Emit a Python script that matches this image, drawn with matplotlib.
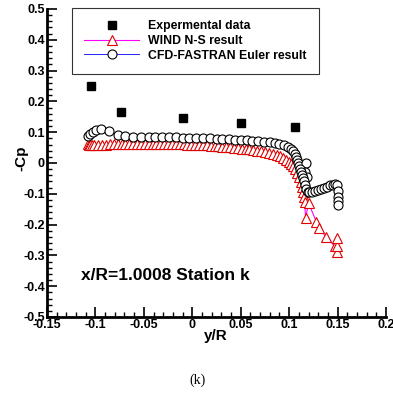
import matplotlib
matplotlib.use("Agg")
import matplotlib.pyplot as plt
from matplotlib.ticker import MultipleLocator

# Experimental data
exp_x = [-0.105, -0.074, -0.010, 0.050, 0.106]
exp_y = [0.250, 0.166, 0.147, 0.130, 0.117]

# WIND N-S result
wind_x = [-0.108, -0.107, -0.106, -0.104, -0.101, -0.097, -0.093, -0.089, -0.085, -0.081,
          -0.077, -0.073, -0.069, -0.065, -0.061, -0.057, -0.053, -0.049, -0.045, -0.041,
          -0.037, -0.033, -0.029, -0.025, -0.021, -0.017, -0.013, -0.009, -0.005, -0.001,
          0.003, 0.007, 0.011, 0.015, 0.019, 0.023, 0.027, 0.031, 0.035, 0.039,
          0.043, 0.047, 0.051, 0.055, 0.059, 0.063, 0.067, 0.071, 0.075, 0.079,
          0.083, 0.087, 0.091, 0.094, 0.097, 0.100, 0.102, 0.104, 0.106, 0.108,
          0.110, 0.112, 0.113, 0.114, 0.115, 0.116, 0.117, 0.120, 0.128, 0.131,
          0.138, 0.147, 0.149, 0.149, 0.149]
wind_y = [0.062, 0.060, 0.059, 0.058, 0.058, 0.059, 0.060, 0.060, 0.061, 0.061,
          0.062, 0.062, 0.062, 0.063, 0.063, 0.063, 0.063, 0.063, 0.063, 0.063,
          0.063, 0.063, 0.062, 0.062, 0.062, 0.062, 0.061, 0.061, 0.060, 0.060,
          0.059, 0.059, 0.058, 0.057, 0.056, 0.055, 0.054, 0.053, 0.052, 0.051,
          0.050, 0.049, 0.047, 0.046, 0.044, 0.042, 0.040, 0.038, 0.035, 0.032,
          0.030, 0.027, 0.022, 0.017, 0.011, 0.004, -0.002, -0.010, -0.020, -0.032,
          -0.046, -0.062, -0.078, -0.095, -0.110, -0.128, -0.180, -0.130, -0.190, -0.210,
          -0.240, -0.270, -0.290, -0.270, -0.245]

# CFD-FASTRAN Euler result
cfd_x = [-0.108, -0.106, -0.103, -0.099, -0.094, -0.086, -0.077, -0.069, -0.061, -0.053,
         -0.045, -0.038, -0.031, -0.024, -0.017, -0.010, -0.003, 0.004, 0.011, 0.018,
         0.025, 0.031, 0.038, 0.044, 0.050, 0.056, 0.062, 0.068, 0.074, 0.080,
         0.085, 0.090, 0.095, 0.099, 0.102, 0.104, 0.106, 0.107, 0.108, 0.109,
         0.110, 0.117, 0.116, 0.118, 0.111, 0.112, 0.113, 0.114, 0.115, 0.116,
         0.117, 0.119, 0.121, 0.124, 0.127, 0.130, 0.133, 0.136, 0.139, 0.142,
         0.145, 0.147, 0.149, 0.150, 0.150, 0.150, 0.150]
cfd_y = [0.088, 0.094, 0.102, 0.108, 0.112, 0.104, 0.092, 0.087, 0.086, 0.085,
         0.085, 0.084, 0.084, 0.083, 0.083, 0.082, 0.082, 0.081, 0.080, 0.080,
         0.079, 0.078, 0.077, 0.076, 0.075, 0.074, 0.073, 0.071, 0.069, 0.067,
         0.064, 0.061, 0.058, 0.053, 0.046, 0.038, 0.029, 0.020, 0.010, 0.000,
         -0.010, 0.000, -0.030, -0.045, -0.020, -0.030, -0.040, -0.050, -0.060, -0.070,
         -0.085, -0.093, -0.095, -0.094, -0.092, -0.089, -0.086, -0.082, -0.078, -0.073,
         -0.070, -0.068, -0.070, -0.090, -0.110, -0.125, -0.138]

labels = ["Expermental data", "WIND N-S result", "CFD-FASTRAN Euler result"]
xticks = [-0.15, -0.1, -0.05, 0, 0.05, 0.1, 0.15, 0.2]
xtick_labels = ["-0.15", "-0.1", "-0.05", "0", "0.05", "0.1", "0.15", "0.2"]
yticks = [-0.5, -0.4, -0.3, -0.2, -0.1, 0, 0.1, 0.2, 0.3, 0.4, 0.5]
ytick_labels = ["-0.5", "-0.4", "-0.3", "-0.2", "-0.1", "0", "0.1", "0.2", "0.3", "0.4", "0.5"]

plt.rcParams['font.family'] = ['Liberation Sans', 'DejaVu Sans']

fig = plt.figure(figsize=(3.93, 3.93), dpi=100)
ax = fig.add_axes([0.1196, 0.1934, 0.8626, 0.7837])

ax.plot(wind_x, wind_y, color="#ff00ff", lw=0.8, marker="^", ms=6.5,
        mfc="white", mec="#e00000", mew=0.8, label=labels[1], zorder=3)
ax.plot(cfd_x, cfd_y, color="#0000ff", lw=0.6, marker="o", ms=6.5,
        mfc="white", mec="black", mew=0.8, label=labels[2], zorder=4)
ax.plot(exp_x, exp_y, ls="none", marker="s", ms=5.5, color="black",
        label=labels[0], zorder=5)

ax.set_xlim(-0.15, 0.2)
ax.set_ylim(-0.5, 0.5)
ax.set_xticks(xticks)
ax.set_xticklabels(xtick_labels, fontweight="bold", fontsize=9)
ax.set_yticks(yticks)
ax.set_yticklabels(ytick_labels, fontweight="bold", fontsize=9)
ax.xaxis.set_minor_locator(MultipleLocator(0.01))
ax.yaxis.set_minor_locator(MultipleLocator(0.02))
ax.tick_params(which="major", direction="in", length=7, width=1.2, pad=1.5)
ax.tick_params(which="minor", direction="in", length=3.5, width=1.0)
ax.spines["top"].set_visible(False)
ax.spines["right"].set_visible(False)
ax.spines["left"].set_linewidth(2)
ax.spines["bottom"].set_linewidth(2)

ax.set_xlabel("y/R", fontweight="bold", fontsize=11)
ax.set_ylabel("-Cp", fontweight="bold", fontsize=11)
ax.xaxis.set_label_coords(0.4985, -0.062)
ax.yaxis.set_label_coords(-0.077, 0.516)
ax.xaxis.label.set_va("center")
ax.yaxis.label.set_va("center")

ax.text(-0.115, -0.364, "x/R=1.0008 Station k", fontsize=12.5, fontweight="bold",
        va="center", ha="left")

h, l = ax.get_legend_handles_labels()
order = [2, 0, 1]
leg = ax.legend([h[i] for i in order], [l[i] for i in order], loc="upper left",
                bbox_to_anchor=(0.074, 1.003), prop={"weight": "bold", "size": 8.8},
                frameon=True, fancybox=False, handlelength=4.5, handletextpad=0.7,
                labelspacing=0.22, borderpad=1.0, borderaxespad=0)
leg.get_frame().set_edgecolor("black")
leg.get_frame().set_linewidth(0.8)

fig.text(0.502, 0.033, "(k)", fontsize=10, family="Liberation Serif", ha="center", va="center")

fig.savefig("out.png", dpi=100)
